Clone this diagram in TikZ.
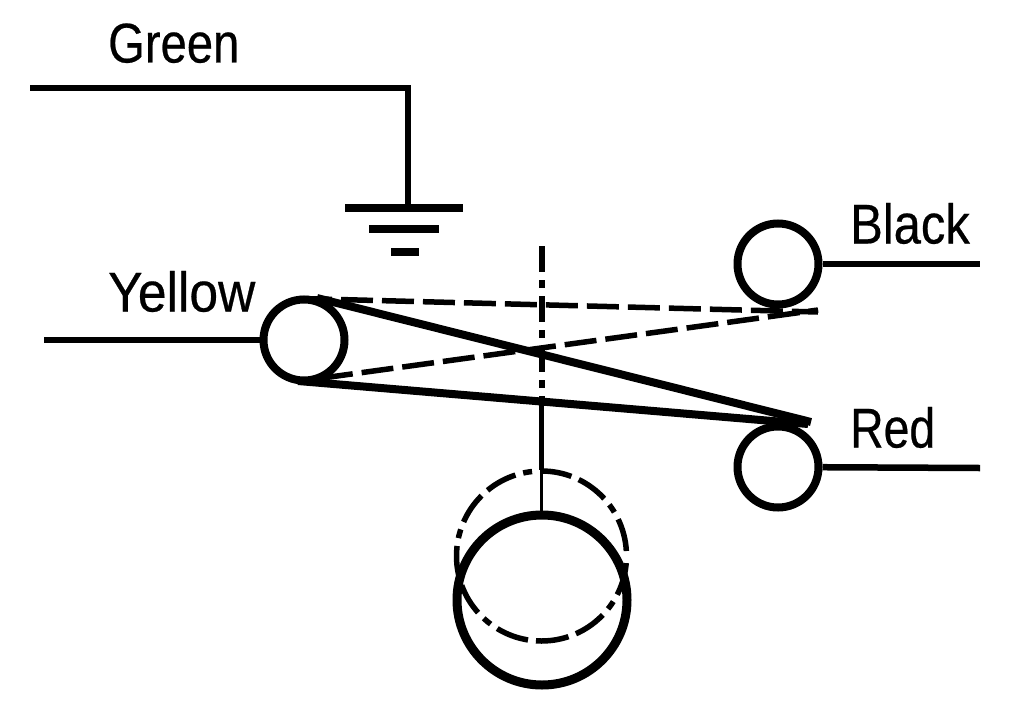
\documentclass[tikz,border=0pt]{standalone}
\usepackage{fontspec}
\setmainfont[FakeStretch=0.78,FakeBold=0.4]{Liberation Sans}
\begin{document}
\begin{tikzpicture}[x=1pt,y=-1pt,
  lab/.style={inner sep=0pt,anchor=base west,font=\fontsize{56}{56}\selectfont},
  wire/.style={line width=6.5pt,line cap=butt},
  coil/.style={circle,draw,line width=8pt,inner sep=0pt,minimum size=81pt,fill=white},
  belt/.style={line width=8pt,line cap=butt},
  dashbelt/.style={line width=5.5pt,dash pattern=on 32pt off 9pt},
  centerdash/.style={line width=6pt,dash pattern=on 26pt off 8pt on 8pt off 8pt},
  orbitline/.style={line width=5.5pt,dash pattern=on 33pt off 8pt on 33pt off 8pt on 9pt off 8pt on 32pt off 8pt on 32pt off 8pt on 9pt off 8pt on 32pt off 8pt on 32pt off 8pt on 9pt off 8pt on 32pt off 8pt on 32pt off 8pt on 9pt off 8pt on 33pt off 8pt on 33pt off 8pt on 33pt off 8pt on 9pt off 8pt,dash phase=36pt}]
\useasboundingbox (0,0) rectangle (1024,701);
\fill[white] (0,0) rectangle (1024,701);
% labels
\node[lab] (green) at (108,62.5) {\scalebox{1.08}[1]{Green}};
\node[lab] (yellow) at (108,311.5) {\scalebox{1.18}[1]{Yellow}};
\node[lab] (black) at (850,243.5) {\scalebox{1.12}[1]{Black}};
\node[lab] (red) at (850,447.5) {\scalebox{1.06}[1]{Red}};
% free-end coordinates
\coordinate (gs) at (30,88);
\coordinate (gc) at (408,88);
\coordinate (ys) at (44,340);
\coordinate (bs) at (980,264);
\coordinate (rs) at (980,468);
\coordinate (g1a) at (345,208); \coordinate (g1b) at (463,208);
\coordinate (g2a) at (369,229); \coordinate (g2b) at (439,229);
\coordinate (g3a) at (391,252); \coordinate (g3b) at (419,252);
\coordinate (gt) at (408,208);
\coordinate (ct) at (541.5,246);
\coordinate (cm) at (541.5,405);
\coordinate (cb) at (541.5,470);
\coordinate (ce) at (541.5,512);
\coordinate (ta) at (317,298);
\coordinate (tb) at (811,422);
\coordinate (ba) at (298,381);
\coordinate (bb) at (808,424);
\coordinate (da) at (300,298.5);
\coordinate (db) at (818,312);
\coordinate (ea) at (321,378.2);
\coordinate (eb) at (818,310);
% wires
\draw[wire,line join=miter] (gs) -- (gc) -- (gt);
\draw[line width=7.5pt] (g1a) -- (g1b);
\draw[line width=7.5pt] (g2a) -- (g2b);
\draw[line width=7.5pt] (g3a) -- (g3b);
% coils
\node[coil] (yc) at (304,340) {};
\node[coil] (kc) at (778,264) {};
\node[coil] (rc) at (778,467) {};
\draw[wire] (ys) -- (yc);
\draw[wire] (kc) -- (bs);
\draw[wire] (rc) -- (rs);
% moving contact circles
\node[circle,draw,orbitline,inner sep=0pt,minimum size=170pt] (orbit) at (541.5,556) {};
\node[circle,draw,line width=9pt,inner sep=0pt,minimum size=170pt] (disc) at (542,600) {};
% centre line
\draw[centerdash] (ct) -- (cm);
\draw[line width=5.5pt] (cm) -- (cb);
\draw[line width=3.5pt] (cb) -- (ce);
% contacts
\draw[dashbelt] (da) -- (db);
\draw[dashbelt] (ea) -- (eb);
\draw[belt] (ta) -- (tb);
\draw[belt] (ba) -- (bb);
\end{tikzpicture}
\end{document}
